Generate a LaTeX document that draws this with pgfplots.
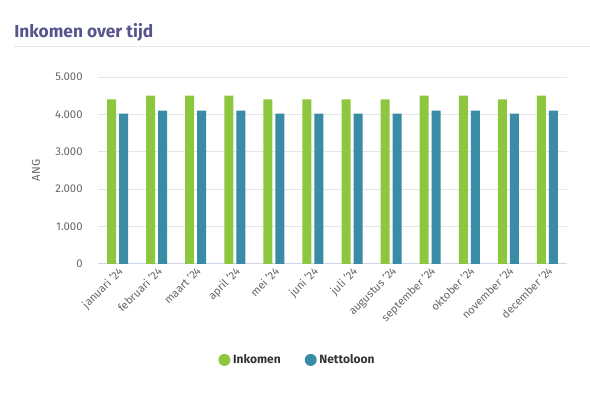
\documentclass[border=0pt]{standalone}
\usepackage{pgfplots}
\pgfplotsset{compat=1.18}
\usepackage{fontspec}
\setmainfont{Fira Sans}
\definecolor{ink}{RGB}{141,198,63}
\definecolor{net}{RGB}{58,139,165}
\definecolor{ttl}{RGB}{86,84,140}
\definecolor{tick}{RGB}{102,102,102}
\definecolor{gridc}{RGB}{230,230,230}
\definecolor{axc}{RGB}{204,214,235}
\pgfplotstableread{
idx ink net
0 4400 4020
1 4500 4100
2 4500 4100
3 4500 4100
4 4400 4020
5 4400 4020
6 4400 4020
7 4400 4020
8 4500 4100
9 4500 4100
10 4400 4020
11 4500 4100
}\data
\begin{document}
\begin{tikzpicture}
\path[use as bounding box] (0pt,0pt) rectangle (442.5pt,294.75pt);
\node[anchor=base west, text=ttl, font=\bfseries\fontsize{13}{15}\selectfont, inner sep=0pt] at (10.5pt,266.25pt) {Inkomen over tijd};
\draw[gridc, line width=0.75pt] (10.5pt,259.5pt) -- (442.5pt,259.5pt);
\begin{axis}[
  at={(73.5pt,96.75pt)}, anchor=south west,
  scale only axis, width=351.75pt, height=140.25pt,
  ymin=0, ymax=5000, xmin=-0.5, xmax=11.5,
  ytick={0,1000,2000,3000,4000,5000},
  xtick=data,
  xticklabels={januari '24,februari '24,maart '24,april '24,mei '24,juni '24,juli '24,augustus '24,september '24,oktober '24,november '24,december '24},
  x tick label style={rotate=45, anchor=north east, inner sep=1pt, font=\fontsize{8.3}{9}\selectfont, text=tick},
  y tick label style={font=\fontsize{8.5}{9}\selectfont, text=tick, xshift=-8pt},
  /pgf/number format/assume math mode=true,
  /pgf/number format/1000 sep={.},
  scaled y ticks=false,
  ymajorgrids, grid style={gridc, line width=0.75pt},
  axis x line*=bottom, axis y line*=left,
  x axis line style={axc, line width=0.75pt, -},
  y axis line style={draw=none},
  major tick length=0pt,
  ylabel={ANG},
  every axis y label/.style={at={(rel axis cs:0,0.5)}, xshift=-46.5pt, rotate=90, anchor=center, text=tick, font=\fontsize{8.5}{9}\selectfont},
  ybar, bar width=6.75pt,
  legend style={at={(0.426,-0.513)}, anchor=center, draw=none, fill=none, legend columns=2,
    font=\bfseries\fontsize{9}{10}\selectfont, text=black!80,
    /tikz/every even column/.append style={column sep=16pt}},
  legend image code/.code={\fill[#1] (0.15cm,0cm) circle (4.5pt);},
]
\addplot[fill=ink, draw=none, bar shift=-4.5pt] table[x=idx, y=ink] {\data};
\addplot[fill=net, draw=none, bar shift=4.5pt] table[x=idx, y=net] {\data};
\legend{Inkomen, Nettoloon}
\end{axis}
\end{tikzpicture}
\end{document}
